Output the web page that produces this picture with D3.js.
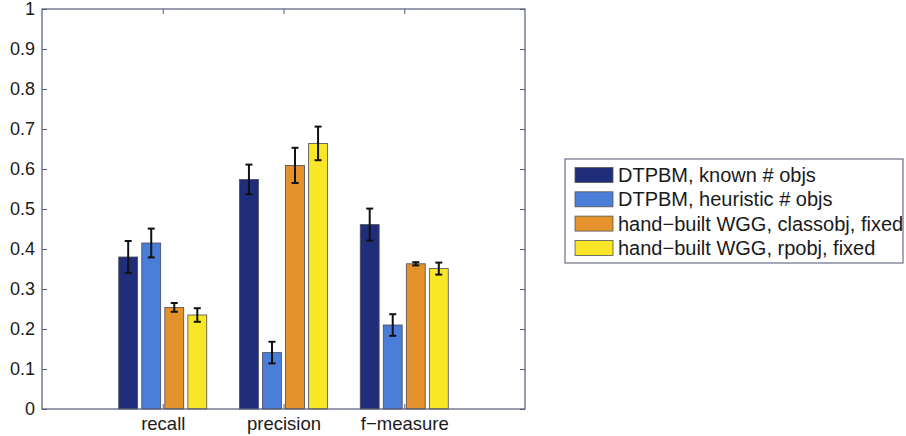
<!DOCTYPE html>
<html>
<head>
<meta charset="utf-8">
<script src="https://cdn.jsdelivr.net/npm/d3@7"></script>
<style>
  body { margin: 0; background: #fff; }
  svg { font-family: "Liberation Sans", Arial, sans-serif; }
  .axis text { fill: #1a1a1a; font-size: 18px; }
  .xlab text { font-size: 18.5px; }
</style>
</head>
<body>
<svg width="906" height="436"></svg>
<script>
// data
const categories = ["recall", "precision", "f\u2212measure"];
const seriesNames = [
    "DTPBM, known # objs",
    "DTPBM, heuristic # objs",
    "hand\u2212built WGG, classobj, fixed",
    "hand\u2212built WGG, rpobj, fixed"
];
const seriesColors = ["#1f2d7b", "#4a7ed9", "#e3922c", "#f9e627"];
// one row per series, one value per category
const means = [
    [0.380, 0.574, 0.461],
    [0.415, 0.141, 0.210],
    [0.254, 0.609, 0.363],
    [0.235, 0.664, 0.351]
];
const errors = [
    [0.040, 0.037, 0.040],
    [0.036, 0.027, 0.027],
    [0.011, 0.044, 0.004],
    [0.017, 0.042, 0.015]
];
const yTicks = [0, 0.1, 0.2, 0.3, 0.4, 0.5, 0.6, 0.7, 0.8, 0.9, 1];

let svg = d3.select("svg"),
    plotLeft = 42, plotRight = 525, plotTop = 9, plotBottom = 409;

let x = d3.scaleLinear().domain([0, 4]).range([plotLeft, plotRight]);
let y = d3.scaleLinear().domain([0, 1]).range([plotBottom, plotTop]);
let inner = d3.scaleBand()
    .domain(d3.range(seriesNames.length))
    .range([-44, 44])
    .paddingInner(0.18);

let axisColor = "#555a78";

// bars
let rows = [];
means.forEach((vals, s) => {
    vals.forEach((v, c) => {
        rows.push({s: s, c: c, v: v, e: errors[s][c]});
    });
});

let g = svg.append("g");

g.selectAll("rect.bar")
    .data(rows)
    .enter().append("rect")
    .attr("class", "bar")
    .attr("x", d => x(d.c + 1) + inner(d.s))
    .attr("width", inner.bandwidth())
    .attr("y", d => y(d.v))
    .attr("height", d => y(0) - y(d.v))
    .attr("fill", d => seriesColors[d.s])
    .attr("stroke", "#4a4a55")
    .attr("stroke-width", 0.8);

// error bars
let eb = g.selectAll("g.err")
    .data(rows)
    .enter().append("g")
    .attr("class", "err")
    .attr("transform", d => "translate(" + (x(d.c + 1) + inner(d.s) + inner.bandwidth() / 2) + ",0)")
    .attr("stroke", "#111")
    .attr("stroke-width", 2);

eb.append("line")
    .attr("y1", d => y(d.v - d.e)).attr("y2", d => y(d.v + d.e));
eb.append("line")
    .attr("x1", -3.5).attr("x2", 3.5)
    .attr("y1", d => y(d.v + d.e)).attr("y2", d => y(d.v + d.e));
eb.append("line")
    .attr("x1", -3.5).attr("x2", 3.5)
    .attr("y1", d => y(d.v - d.e)).attr("y2", d => y(d.v - d.e));

// axes (matlab style box with inward ticks)
let yAxis = svg.append("g")
    .attr("class", "axis")
    .attr("transform", "translate(" + plotLeft + ",0)")
    .call(d3.axisLeft(y).tickValues(yTicks).tickFormat(d => d === 0 || d === 1 ? d3.format("d")(d) : d3.format(".1f")(d)).tickSize(-5).tickPadding(7));
yAxis.select(".domain").remove();
yAxis.selectAll("line").attr("stroke", axisColor);

let yAxisR = svg.append("g")
    .attr("transform", "translate(" + plotRight + ",0)")
    .call(d3.axisRight(y).tickValues(yTicks).tickSize(-5).tickFormat(""));
yAxisR.select(".domain").remove();
yAxisR.selectAll("line").attr("stroke", axisColor);

let xAxis = svg.append("g")
    .attr("class", "axis xlab")
    .attr("transform", "translate(0," + plotBottom + ")")
    .call(d3.axisBottom(x).tickValues([1, 2, 3]).tickFormat(d => categories[d - 1]).tickSize(-5).tickPadding(8));
xAxis.select(".domain").remove();
xAxis.selectAll("line").attr("stroke", axisColor);

let xAxisT = svg.append("g")
    .attr("transform", "translate(0," + plotTop + ")")
    .call(d3.axisTop(x).tickValues([1, 2, 3]).tickSize(-5).tickFormat(""));
xAxisT.select(".domain").remove();
xAxisT.selectAll("line").attr("stroke", axisColor);

svg.append("rect")
    .attr("x", plotLeft).attr("y", plotTop)
    .attr("width", plotRight - plotLeft).attr("height", plotBottom - plotTop)
    .attr("fill", "none")
    .attr("stroke", axisColor)
    .attr("stroke-width", 1.2);

// legend
let legend = svg.append("g").attr("transform", "translate(565,159)");
legend.append("rect")
    .attr("width", 338).attr("height", 104)
    .attr("fill", "#fff")
    .attr("stroke", "#6a6e85")
    .attr("stroke-width", 1.2);

let item = legend.selectAll("g.item")
    .data(seriesNames)
    .enter().append("g")
    .attr("class", "item")
    .attr("transform", (d, i) => "translate(10," + (16 + i * 24.3) + ")");

item.append("rect")
    .attr("y", -7.5)
    .attr("width", 38).attr("height", 15)
    .attr("fill", (d, i) => seriesColors[i])
    .attr("stroke", "#555")
    .attr("stroke-width", 0.8);

item.append("text")
    .attr("x", 43)
    .attr("dy", "0.35em")
    .attr("font-size", 20)
    .attr("fill", "#1a1a1a")
    .text(d => d);
</script>
</body>
</html>
